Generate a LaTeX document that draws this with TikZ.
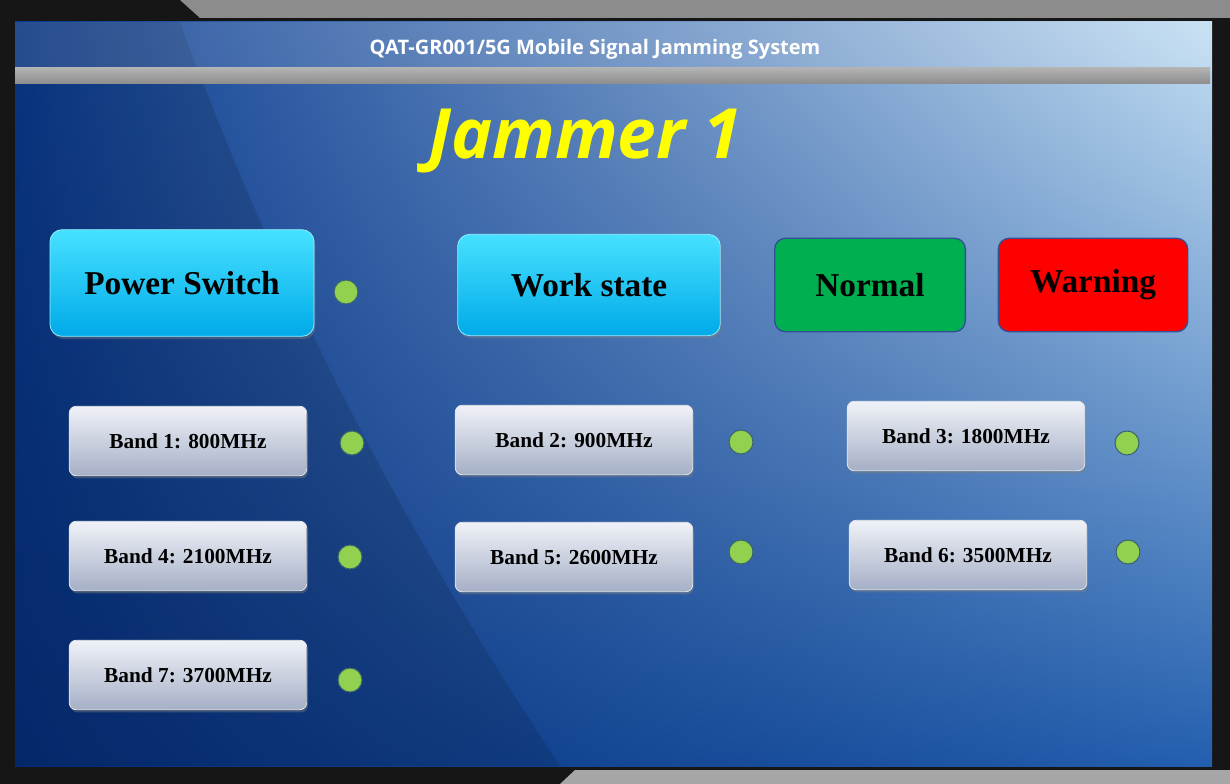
\documentclass[tikz,border=0pt]{standalone}
\usepackage{fontspec}
\setmainfont{Liberation Serif}
\newfontfamily\titlefont{Open Sans}
\usetikzlibrary{shadows,shadings}
\definecolor{frame}{RGB}{22,22,22}
\definecolor{bUL}{RGB}{10,60,145}
\definecolor{bUR}{RGB}{195,222,242}
\definecolor{bLL}{RGB}{5,45,120}
\definecolor{bLR}{RGB}{35,95,175}
\definecolor{cyanT}{RGB}{70,225,255}
\definecolor{cyanB}{RGB}{0,170,232}
\definecolor{grayT}{RGB}{240,242,248}
\definecolor{grayB}{RGB}{165,175,198}
\definecolor{led}{RGB}{146,208,80}
\definecolor{okgreen}{RGB}{0,176,80}
\definecolor{yel}{RGB}{255,255,0}
\tikzset{
  cyanbtn/.style={rectangle,rounded corners=9pt,top color=cyanT,bottom color=cyanB,draw=cyanT!60!white,line width=0.6pt,drop shadow={opacity=0.4,shadow xshift=1pt,shadow yshift=-2pt},font=\bfseries\fontsize{25}{28}\selectfont,inner sep=0pt},
  bandbtn/.style={rectangle,rounded corners=5pt,top color=grayT,bottom color=grayB,draw=white!80!gray,line width=0.6pt,drop shadow={opacity=0.4,shadow xshift=1pt,shadow yshift=-2pt},font=\bfseries\fontsize{16}{18}\selectfont,inner sep=0pt},
  statebtn/.style={rectangle,rounded corners=8pt,draw={rgb,255:red,50;green,80;blue,150},line width=1pt,font=\bfseries\fontsize{25}{28}\selectfont,inner sep=0pt},
  ledc/.style={circle,fill=led,draw={rgb,255:red,60;green,100;blue,110},line width=0.8pt,minimum size=18pt,inner sep=0pt}
}
\begin{document}
\begin{tikzpicture}[x=0.75pt,y=-0.75pt]
\useasboundingbox (0,0) rectangle (1230,784);
\fill[frame] (0,0) rectangle (1230,784);
\fill[black!45] (180,0) -- (1230,0) -- (1230,18) -- (200,18) -- cycle;
\fill[black!35] (560,784) -- (1230,784) -- (1230,770) -- (575,770) -- cycle;
\shade[upper left=bUL,upper right=bUR,lower left=bLL,lower right=bLR] (15,22) rectangle (1212,766);
\fill[black,opacity=0.12] (15,22) -- (180,22) .. controls (300,350) and (450,600) .. (560,766) -- (15,766) -- cycle;
\fill[white,opacity=0.12] (15,22) rectangle (1212,72);
\shade[top color=gray!60,bottom color=gray!90] (15,68) rectangle (1210,84);
\node[text=white,font=\titlefont\bfseries\fontsize{15}{18}\selectfont] (title) at (595,49) {QAT-GR001/5G Mobile Signal Jamming System};
\node[text=yel,font=\titlefont\bfseries\itshape\fontsize{52}{60}\selectfont] (jam) at (585,141) {Jammer 1};

\node[cyanbtn,minimum width=198pt,minimum height=80pt] (power) at (182,283) {Power Switch};
\node[ledc] (ledp) at (346,292) {};
\node[cyanbtn,minimum width=197pt,minimum height=76pt] (work) at (589,285) {Work state};
\node[statebtn,fill=okgreen,minimum width=143pt,minimum height=70pt] (normal) at (870,285) {Normal};
\node[statebtn,fill=red,minimum width=142pt,minimum height=70pt] (warn) at (1093,285) {Warning};

\node[bandbtn,minimum width=178pt,minimum height=52pt] (b1) at (188,441) {Band 1: 800MHz};
\node[ledc] (l1) at (352,443) {};
\node[bandbtn,minimum width=178pt,minimum height=52pt] (b2) at (574,440) {Band 2: 900MHz};
\node[ledc] (l2) at (741,442) {};
\node[bandbtn,minimum width=178pt,minimum height=52pt] (b3) at (966,436) {Band 3: 1800MHz};
\node[ledc] (l3) at (1127,443) {};
\node[bandbtn,minimum width=178pt,minimum height=52pt] (b4) at (188,556) {Band 4: 2100MHz};
\node[ledc] (l4) at (350,557) {};
\node[bandbtn,minimum width=178pt,minimum height=52pt] (b5) at (574,557) {Band 5: 2600MHz};
\node[ledc] (l5) at (741,552) {};
\node[bandbtn,minimum width=178pt,minimum height=52pt] (b6) at (968,555) {Band 6: 3500MHz};
\node[ledc] (l6) at (1128,552) {};
\node[bandbtn,minimum width=178pt,minimum height=52pt] (b7) at (188,675) {Band 7: 3700MHz};
\node[ledc] (l7) at (350,680) {};
\end{tikzpicture}
\end{document}
